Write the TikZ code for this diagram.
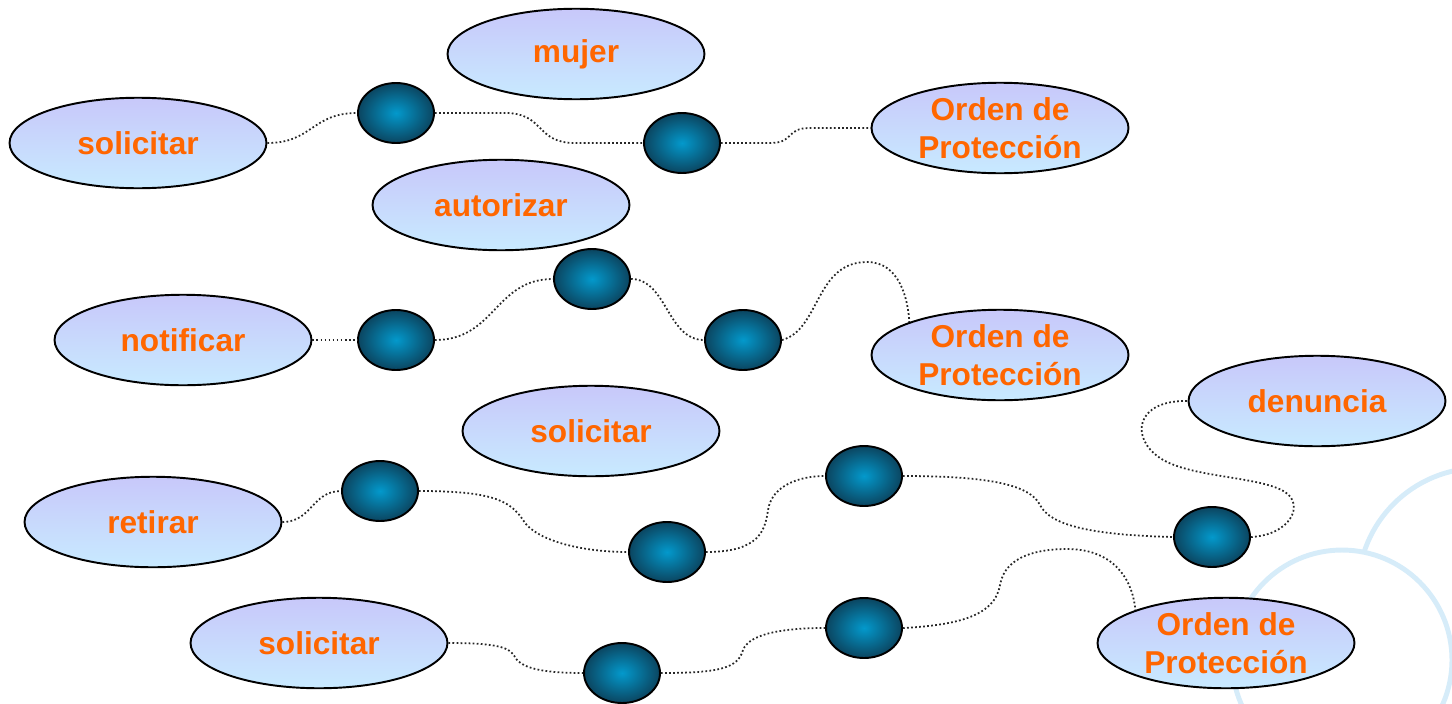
\documentclass[tikz,border=0pt]{standalone}
\usepackage{fontspec}
\setmainfont{Liberation Sans}
\usepackage{xcolor}
\usepackage{tikz}
\usetikzlibrary{shapes}

\definecolor{wordorange}{HTML}{FF6600}
\definecolor{conceptTop}{HTML}{C8C8FA}
\definecolor{conceptBottom}{HTML}{C8EAFF}
\definecolor{jointIn}{HTML}{0399CC}
\definecolor{jointOut}{HTML}{0B4560}
\definecolor{ringblue}{HTML}{D6ECF9}

\begin{document}
\begin{tikzpicture}[x=0.02cm,y=-0.02cm,
  concept/.style={draw,shape=ellipse,line width=1.1pt,minimum width=5.14cm,minimum height=1.81cm,
    inner sep=0pt,top color=conceptTop,bottom color=conceptBottom,text=wordorange,
    font=\fontsize{18}{21.6}\selectfont\bfseries,align=center},
  joint/.style={draw,shape=ellipse,line width=1.1pt,minimum width=1.52cm,minimum height=1.2cm,
    inner sep=0pt,inner color=jointIn,outer color=jointOut},
  link/.style={line width=1pt,dash pattern=on 1pt off 1.3pt,draw=black!85},
  ring/.style={draw=ringblue,line width=2.8pt}]
\useasboundingbox (0,0) rectangle (1452,703);

% rings in the corner
\begin{scope}
\clip (0,0) rectangle (1452,703);
\draw [ring] (1480,590) circle [radius=2.44cm];
\draw [ring,fill=white] (1342,660) circle [radius=2.2cm];
\end{scope}

\node (sol1) at (138,143) [concept] {solicitar};
\node (mujer) at (576,54) [concept] {mujer};
\node (orden1) at (1000,128) [concept] {Orden de\\Protección};
\node (autor) at (501,205) [concept] {autorizar};
\node (notif) at (183,340) [concept] {notificar};
\node (orden2) at (1000,355) [concept] {Orden de\\Protección};
\node (denun) at (1317,401) [concept] {denuncia};
\node (sol2) at (591,431) [concept] {solicitar};
\node (retir) at (153,522) [concept] {retirar};
\node (sol3) at (319,643) [concept] {solicitar};
\node (orden3) at (1226,643) [concept] {Orden de\\Protección};

\node (p11) at (396,113) [joint] {};
\node (p12) at (682,143) [joint] {};

\node (p21) at (396,340) [joint] {};
\node (p22) at (592,279) [joint] {};
\node (p23) at (743,340) [joint] {};

\node (p31) at (380,491) [joint] {};
\node (p32) at (667,552) [joint] {};
\node (p33) at (864,476) [joint] {};
\node (p34) at (1212,537) [joint] {};

\node (p41) at (622,673) [joint] {};
\node (p42) at (864,628) [joint] {};

\draw [link] (sol1.east) .. controls (312,143) and (312,113) .. (p11.west);
\draw [link] (p11.east) -- (505,113) .. controls (545,113) and (535,143) .. (575,143) -- (p12.west);
\draw [link] (p12.east) -- (770,143) .. controls (795,143) and (785,128) .. (810,128) -- (orden1.west);

\draw [link] (notif.east) -- (p21.west);
\draw [link] (p21.east) .. controls (495,340) and (495,279) .. (p22.west);
\draw [link] (p22.east) .. controls (667,279) and (667,340) .. (p23.west);
\draw [link] (p23.east) .. controls (820,330) and (815,262) .. (867,262) .. controls (900,262) and (908,300) .. (orden2.160);

\draw [link] (retir.east) .. controls (312,522) and (312,491) .. (p31.west);
\draw [link] (p31.east) .. controls (490,491) and (510,500) .. (523,520) .. controls (535,540) and (580,552) .. (p32.west);
\draw [link] (p32.east) .. controls (760,552) and (765,530) .. (768,510) .. controls (772,485) and (800,476) .. (p33.west);
\draw [link] (p33.east) .. controls (990,476) and (1030,485) .. (1040,505) .. controls (1050,525) and (1090,535) .. (p34.west);
\draw [link] (p34.east) .. controls (1290,535) and (1305,505) .. (1285,492) .. controls (1260,476) and (1190,478) .. (1160,458) .. controls (1130,438) and (1135,400) .. (denun.west);

\draw [link] (sol3.east) .. controls (500,643) and (510,648) .. (515,657) .. controls (522,670) and (550,673) .. (p41.west);
\draw [link] (p41.east) .. controls (720,673) and (738,668) .. (743,650) .. controls (750,632) and (790,628) .. (p42.west);
\draw [link] (p42.east) .. controls (960,625) and (995,615) .. (1000,585) .. controls (1005,555) and (1040,549) .. (1067,549) .. controls (1110,549) and (1132,575) .. (orden3.160);
\end{tikzpicture}
\end{document}
